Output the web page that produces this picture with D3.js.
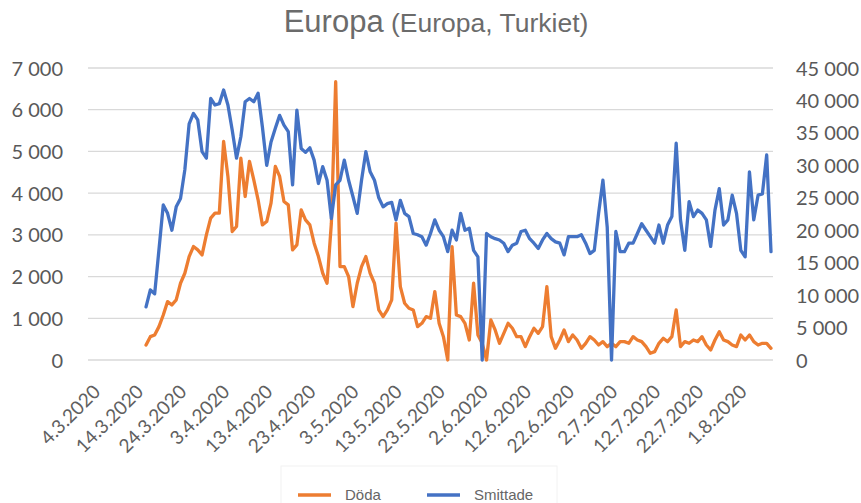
<!DOCTYPE html>
<html><head><meta charset="utf-8">
<script src="https://cdn.jsdelivr.net/npm/d3@7"></script>
<style>body{margin:0;background:#fff} svg{display:block}</style>
</head><body>
<svg id="chart" width="861" height="503"></svg>
<script>
// ---- data ----
const firstDataDate = "17.3.2020";
const doda = [360,560,600,800,1080,1400,1320,1440,1840,2080,2480,2720,2640,2520,3000,3400,3520,3520,5240,4400,
  3080,3200,4840,3920,4760,4320,3840,3240,3320,3760,4640,4400,3800,3720,2640,2760,3600,3360,3240,2800,
  2480,2080,1840,3280,6670,2240,2240,2000,1280,1840,2240,2480,2080,1840,1200,1040,1200,1440,3280,1760,
  1360,1240,1200,800,880,1040,1000,1640,880,560,0,2720,1080,1040,880,480,1840,600,400,0,
  960,720,400,640,880,760,560,560,320,560,760,640,800,1760,560,280,480,720,440,600,
  480,280,400,560,480,360,440,320,400,320,440,440,400,560,480,440,320,160,200,400,
  520,440,560,1200,320,440,400,480,440,560,360,240,480,680,480,440,360,320,600,480,
  600,440,360,400,400,280];
const smittade = [8200,10800,10200,17000,23900,22600,20000,23600,24900,29300,36400,38000,37000,32100,31100,40300,39300,39500,41600,39300,
  35400,31100,34400,39800,40300,39800,41100,35900,30000,33600,35700,37700,36200,35200,27000,38500,32600,32000,32700,30800,
  27200,29800,27700,21800,27000,27700,30800,27700,25200,22600,27700,32100,29000,27700,25000,23600,24100,24300,21600,24600,
  22600,22100,19500,19300,19000,17700,19500,21600,20000,19000,16700,20000,18500,22600,20000,20300,16900,15900,0,19500,
  19000,18700,18500,18000,16700,17700,18000,19800,20000,18700,18000,17200,18500,19500,18700,18200,18000,16200,19000,19000,
  19000,19300,18000,16400,16900,22600,27700,20500,0,19800,16700,16700,18000,18000,19500,21000,20000,19000,18000,20800,
  18000,20800,22100,33400,21600,16900,24400,22100,23100,22600,21600,17500,23100,26400,20800,21600,25400,22600,16900,15900,
  29000,21600,25400,25600,31600,16700];
const xTickLabels = ["4.3.2020","14.3.2020","24.3.2020","3.4.2020","13.4.2020","23.4.2020","3.5.2020","13.5.2020",
  "23.5.2020","2.6.2020","12.6.2020","22.6.2020","2.7.2020","12.7.2020","22.7.2020","1.8.2020"];
const leftTicks = [0,1000,2000,3000,4000,5000,6000,7000];
const rightTicks = [0,5000,10000,15000,20000,25000,30000,35000,40000,45000];
const seriesNames = ["Döda","Smittade"];
const seriesColors = ["#ED7D31","#4472C4"];
const titleMain = "Europa";
const titleSub = "(Europa, Turkiet)";

// ---- setup ----
const parse = d3.timeParse("%d.%m.%Y");
const start = parse(firstDataDate);
const dates = smittade.map((_, i) => d3.timeDay.offset(start, i));
const tickDates = xTickLabels.map(parse);

const svg = d3.select("#chart");
svg.append("rect").attr("width",861).attr("height",503).attr("fill","#fff");

const plotL = 90, plotR = 771, plotT = 68, plotB = 360;
const x = d3.scaleTime().domain([tickDates[0], dates[dates.length-1]]).range([plotL, plotR]);
const yL = d3.scaleLinear().domain([0,7000]).range([plotB, plotT]);
const yR = d3.scaleLinear().domain([0,45000]).range([plotB, plotT]);

const loc = d3.formatLocale({decimal:",", thousands:" ", grouping:[3], currency:["",""]});
const fmt = loc.format(",");

// gridlines
svg.append("g").selectAll("line").data(leftTicks).join("line")
  .attr("x1", plotL-2).attr("x2", plotR+2)
  .attr("y1", d => yL(d)).attr("y2", d => yL(d))
  .attr("stroke", "#d9d9d9").attr("stroke-width", 1.3);

// left axis
const gL = svg.append("g").attr("transform", `translate(${plotL-24},0)`)
  .call(d3.axisLeft(yL).tickValues(leftTicks).tickFormat(fmt).tickSize(0));
gL.select(".domain").remove();
gL.selectAll("text").attr("font-family","Lato, 'Open Sans', sans-serif").attr("font-size",20)
  .attr("fill","#595959").attr("dx",0).attr("dy","0.35em");

// right axis
const gR = svg.append("g").attr("transform", `translate(${plotR+22},0)`)
  .call(d3.axisRight(yR).tickValues(rightTicks).tickFormat(fmt).tickSize(0));
gR.select(".domain").remove();
gR.selectAll("text").attr("font-family","Lato, 'Open Sans', sans-serif").attr("font-size",20)
  .attr("fill","#595959").attr("dx",0).attr("dy","0.35em");

// x axis
const gX = svg.append("g").attr("transform", `translate(0,${plotB})`)
  .call(d3.axisBottom(x).tickValues(tickDates).tickFormat((d,i) => xTickLabels[i]).tickSize(0));
gX.select(".domain").remove();
gX.selectAll("text").attr("font-family","Lato, 'Open Sans', sans-serif").attr("font-size",19)
  .attr("fill","#606060").attr("text-anchor","end")
  .attr("transform","translate(11,33) rotate(-45)").attr("dy",0).attr("y",0).attr("x",0);

// lines
const lineD = d3.line().x((d,i) => x(dates[i])).y(d => yL(d));
const lineS = d3.line().x((d,i) => x(dates[i])).y(d => yR(d));
svg.append("path").datum(doda).attr("d", lineD).attr("fill","none")
  .attr("stroke", seriesColors[0]).attr("stroke-width",3.3).attr("stroke-linejoin","round").attr("stroke-linecap","round");
svg.append("path").datum(smittade).attr("d", lineS).attr("fill","none")
  .attr("stroke", seriesColors[1]).attr("stroke-width",3.3).attr("stroke-linejoin","round").attr("stroke-linecap","round");

// title
const t = svg.append("text").attr("x", 436).attr("y", 32).attr("text-anchor","middle")
  .attr("font-family","'Liberation Sans', Arial, sans-serif").attr("fill","#6b6b6b");
t.append("tspan").attr("font-size",31).text(titleMain);
t.append("tspan").attr("font-size",26.5).text(" " + titleSub);

// legend
const legX = [298, 427];
const legY = 495;
const lg = svg.append("g");
lg.append("rect").attr("x",281).attr("y",466).attr("width",276).attr("height",45)
  .attr("fill","none").attr("stroke","#f2f2f2");
seriesNames.forEach((n,i) => {
  lg.append("line").attr("x1",legX[i]).attr("x2",legX[i]+33).attr("y1",legY).attr("y2",legY)
    .attr("stroke",seriesColors[i]).attr("stroke-width",3.3);
  lg.append("text").attr("x",legX[i]+47).attr("y",legY).attr("dy","0.35em")
    .attr("font-family","'Liberation Sans', Arial, sans-serif").attr("font-size",15)
    .attr("fill","#666").text(n);
});
</script>
</body></html>
